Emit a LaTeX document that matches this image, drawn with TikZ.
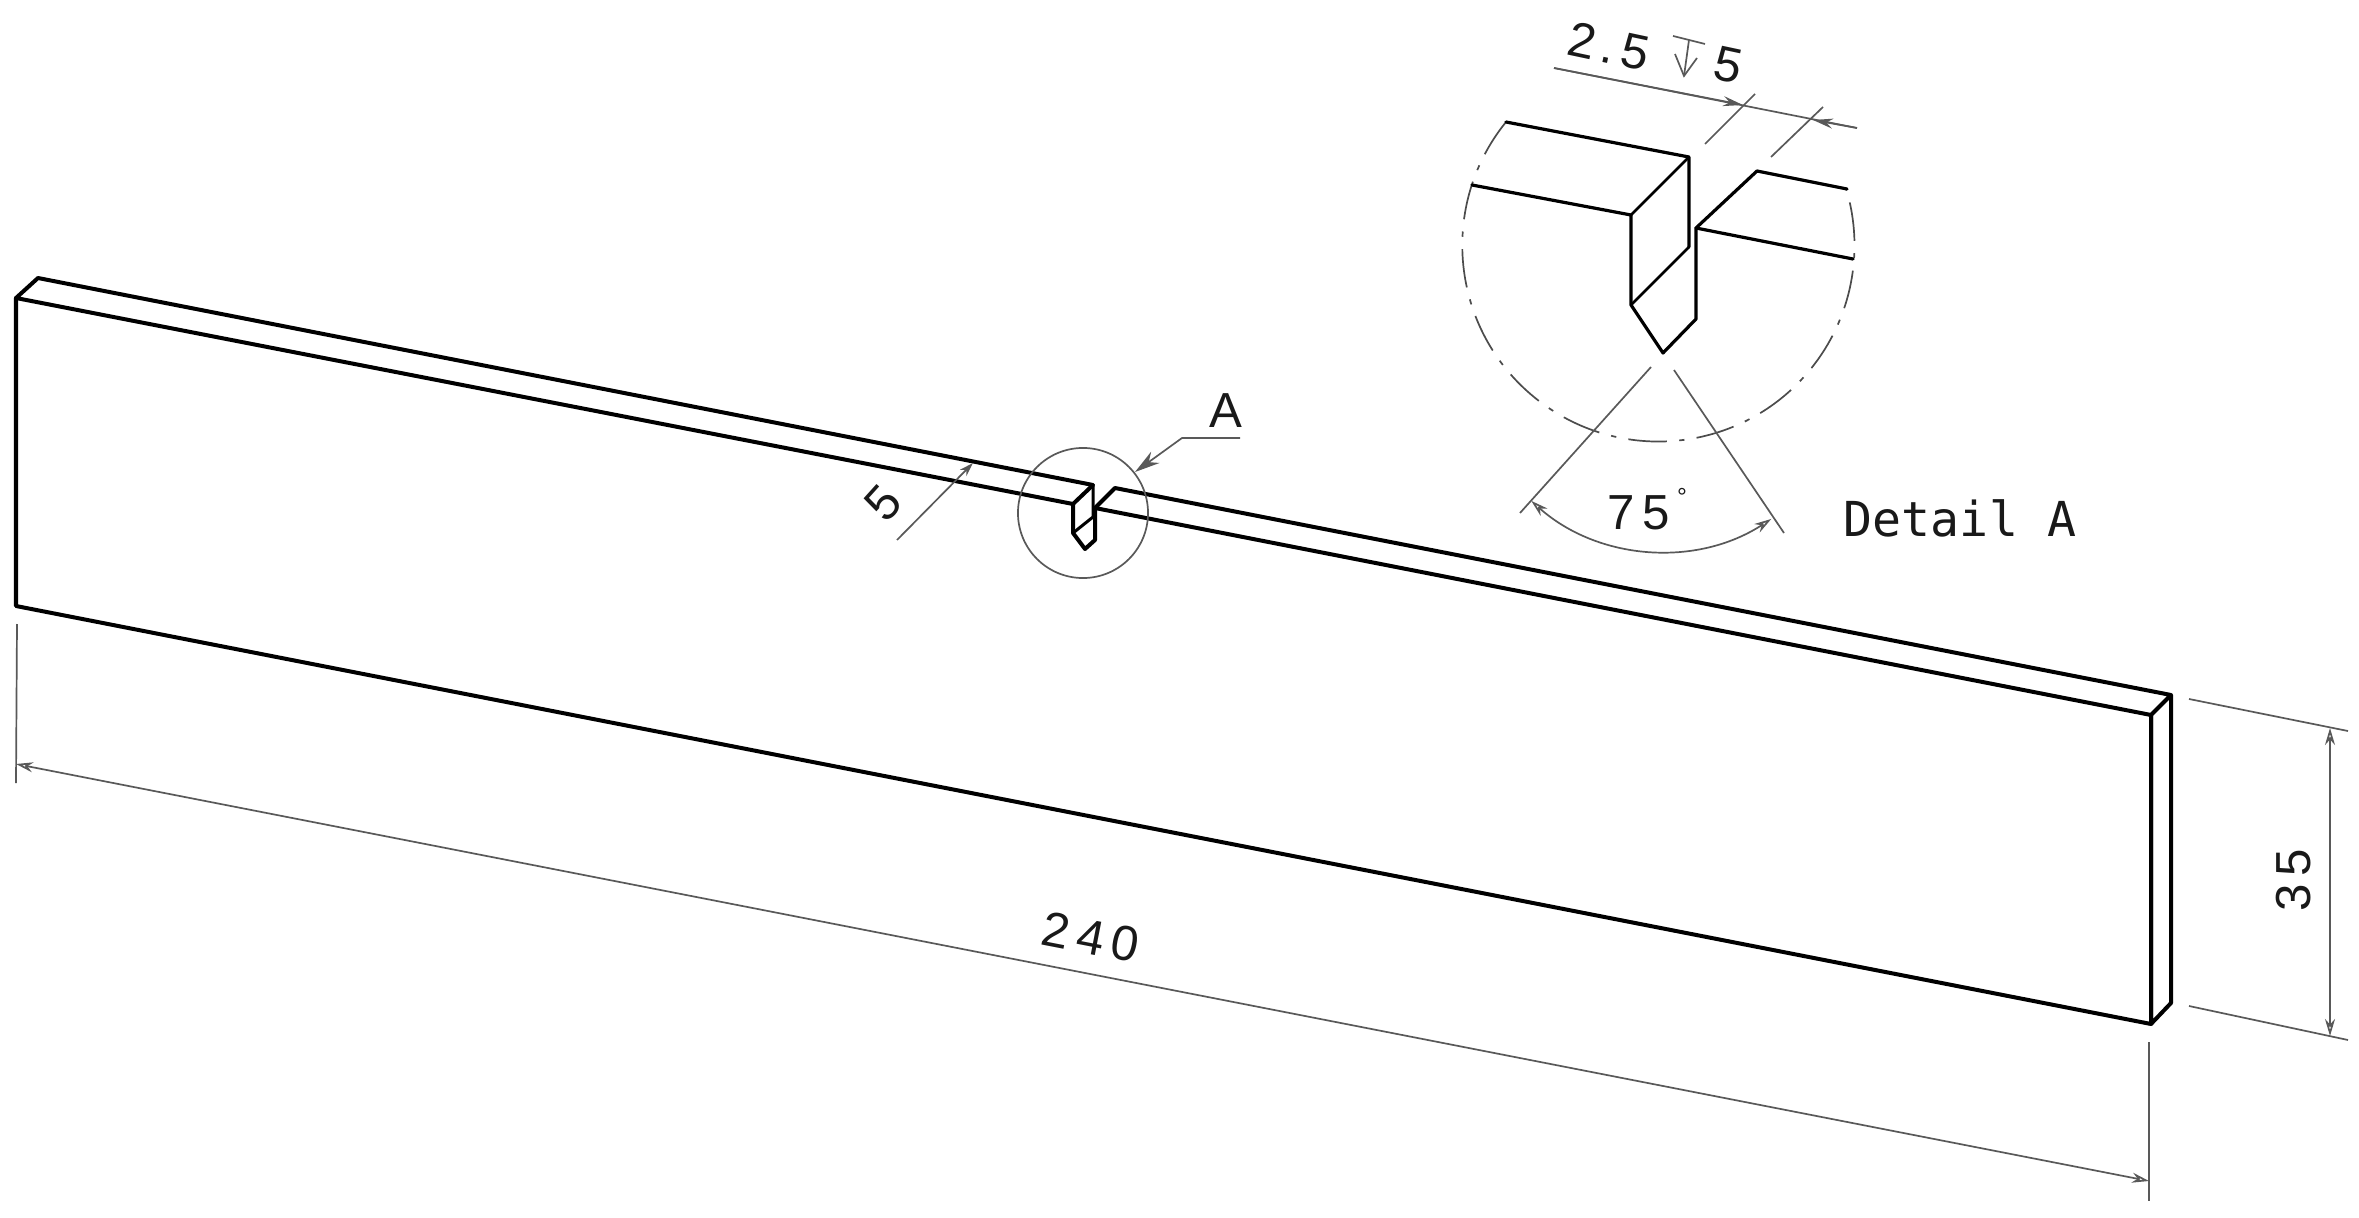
\documentclass[tikz,border=0pt]{standalone}
\usepackage{fontspec}
\usetikzlibrary{arrows.meta}
\newfontfamily\dimfont[LetterSpace=16]{Liberation Sans}
\newfontfamily\plainsans{Liberation Sans}
\newfontfamily\plainmono{DejaVu Sans Mono}
\definecolor{dimgray}{gray}{0.35}
\tikzset{
  x=0.01cm, y=-0.01cm,
  body/.style={line width=0.04cm, black, line join=round, line cap=round},
  detail/.style={line width=0.032cm, black, line join=round, line cap=round},
  dim/.style={line width=0.017cm, dimgray},
  dimarrow/.style={dim, {Stealth[length=0.17cm,width=0.1cm,open]}-{Stealth[length=0.17cm,width=0.1cm,open]}},
  label/.style={font=\dimfont\fontsize{14pt}{16pt}\selectfont, inner sep=0pt, text=black!90},
  chaincircle/.style={line width=0.017cm, black!70, dash pattern=on 11pt off 3.5pt on 1.5pt off 3.5pt}
}
\begin{document}
\begin{tikzpicture}
\useasboundingbox (0,0) rectangle (2359,1218);
% body corners
\coordinate (ftl) at (16,298);
\coordinate (fbl) at (16,606);
\coordinate (fbr) at (2151,1024);
\coordinate (ftr) at (2151,715);
\coordinate (btl) at (38,278);
\coordinate (btr) at (2171,695);
\coordinate (bbr) at (2171,1003);
% notch on body
\coordinate (n1) at (1093,485);
\coordinate (n2) at (1073,504);
\coordinate (n3) at (1073,533);
\coordinate (n4) at (1085,549);
\coordinate (n5) at (1095,540);
\coordinate (n6) at (1095,508);
\coordinate (n7) at (1115,488);
\coordinate (n8) at (1093,517);
\draw[body] (ftl) -- (fbl) -- (fbr) -- (ftr) -- (n6);
\draw[body] (ftl) -- (n2) -- (n1) -- (btl) -- cycle;
\draw[body] (n2) -- (n3) -- (n4) -- (n5) -- (n6) -- (n7) -- (btr) -- (ftr) -- (fbr) -- (bbr) -- (btr);
\draw[line width=0.03cm] (n1) -- (n8) -- (n3);
% detail circle and leader
\coordinate (cc) at (1083,513);
\draw[line width=0.017cm, black!65] (cc) circle[radius=0.65cm];
\node[label] (nA) at (1226,411) {A};
\coordinate (la1) at (1240,438);
\coordinate (la2) at (1182,438);
\coordinate (la3) at (1135,472);
\draw[dim, -{Stealth[length=0.25cm,width=0.14cm]}] (la1) -- (la2) -- (la3);
% dimension 5
\coordinate (d5a) at (897,540);
\coordinate (d5b) at (973,463);
\draw[dim, -{Stealth[length=0.14cm,width=0.09cm]}] (d5a) -- (d5b);
\node[label, rotate=48] (n5t) at (883,503) {5};
% dimension 240
\coordinate (e1a) at (17,624);
\coordinate (e1b) at (16,783);
\coordinate (e2a) at (2149,1042);
\coordinate (e2b) at (2149,1201);
\coordinate (d1) at (16,764);
\coordinate (d2) at (2149,1181);
\draw[dim] (e1a) -- (e1b);
\draw[dim] (e2a) -- (e2b);
\draw[dimarrow] (d1) -- (d2);
\node[label, rotate=-11] (n240) at (1091,937) {240};
% dimension 35
\coordinate (f1a) at (2189,699);
\coordinate (f1b) at (2348,731);
\coordinate (f2a) at (2189,1006);
\coordinate (f2b) at (2348,1040);
\coordinate (g1) at (2330,728);
\coordinate (g2) at (2330,1036);
\draw[dim] (f1a) -- (f1b);
\draw[dim] (f2a) -- (f2b);
\draw[dimarrow] (g1) -- (g2);
\node[label, rotate=90] (n35) at (2294,880) {35};
% Detail A
\coordinate (a1) at (1506,122);
\coordinate (a2) at (1689,157);
\coordinate (a3) at (1472,185);
\coordinate (a4) at (1631,215);
\coordinate (a5) at (1631,305);
\coordinate (a6) at (1663,353);
\coordinate (a7) at (1696,319);
\coordinate (a8) at (1696,228);
\coordinate (a9) at (1757,171);
\coordinate (a10) at (1847,189);
\coordinate (a11) at (1853,259);
\coordinate (a12) at (1689,247);
\draw[chaincircle] (a1) arc[start angle=141, end angle=376.5, radius=1.96cm];
\draw[detail] (a1) -- (a2) -- (a12);
\draw[detail] (a3) -- (a4) -- (a5) -- (a6) -- (a7) -- (a8) -- (a9) -- (a10);
\draw[detail] (a8) -- (a11);
\draw[detail, line width=0.025cm] (a4) -- (a2);
\draw[detail, line width=0.025cm] (a5) -- (a12);
% dimension 2.5
\coordinate (b1) at (1554,68);
\coordinate (b2) at (1857,128);
\coordinate (b3) at (1743,105);
\coordinate (b4) at (1813,120);
\coordinate (x1a) at (1705,144);
\coordinate (x1b) at (1755,94);
\coordinate (x2a) at (1771,157);
\coordinate (x2b) at (1823,107);
\draw[dim] (x1a) -- (x1b);
\draw[dim] (x2a) -- (x2b);
\draw[dim] (b1) -- (b2);
\draw[dim, -{Stealth[length=0.2cm,width=0.1cm]}] (b1) -- (b3);
\draw[dim, -{Stealth[length=0.2cm,width=0.1cm]}] (b2) -- (b4);
\node[label, rotate=-12] (n25) at (1609,46) {2\kern 0.13em.\kern 0.13em 5};
\node[label, rotate=-12] (n5b) at (1728,65) {5};
% depth symbol
\coordinate (s1) at (1673,36);
\coordinate (s2) at (1705,44);
\coordinate (s3) at (1689,40);
\coordinate (s4) at (1684,76);
\coordinate (s5) at (1675,54);
\coordinate (s6) at (1697,58);
\draw[dim] (s1) -- (s2);
\draw[dim] (s3) -- (s4);
\draw[dim] (s5) -- (s4) -- (s6);
% angle 75
\coordinate (c1) at (1651,367);
\coordinate (c2) at (1520,513);
\coordinate (c3) at (1674,370);
\coordinate (c4) at (1784,533);
\coordinate (c5) at (1531.3,500.9);
\draw[dim] (c1) -- (c2);
\draw[dim] (c3) -- (c4);
\draw[dimarrow] (c5) arc[start angle=228.3, end angle=303.1, radius=1.98cm];
\node[label] (n75) at (1639,513) {75};
\node[label, font=\plainsans\fontsize{7pt}{8pt}\selectfont] (ndeg) at (1682,497) {°};
\node[label, font=\plainmono\fontsize{13.7pt}{16pt}\selectfont] (ndet) at (1960,518) {Detail A};
\end{tikzpicture}
\end{document}
